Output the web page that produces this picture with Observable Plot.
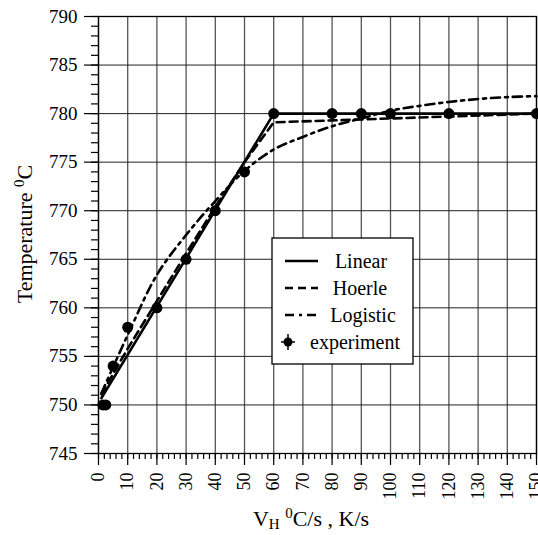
<!DOCTYPE html>
<html><head><meta charset="utf-8">
<script src="https://cdn.jsdelivr.net/npm/d3@7"></script>
<script src="https://cdn.jsdelivr.net/npm/@observablehq/plot@0.6"></script>
<style>body{margin:0;background:#fff} svg text{font-family:"Liberation Serif","Times New Roman",serif}</style>
</head><body><div id="chart"></div>
<script>
// experiment
const expX = [1.5, 2.5, 5, 10, 20, 30, 40, 50, 60, 80, 90, 100, 120, 150];
const expY = [750, 750, 754, 758, 760, 765, 770, 774, 780, 780, 780, 780, 780, 780];
// Linear model
const linX = [1, 60, 150];
const linY = [750.7, 780, 780];
// Hoerle model
const hoeX = [1, 5, 10, 20, 30, 40, 50, 60, 80, 100, 120, 150];
const hoeY = [751.1, 753.2, 755.8, 760.7, 765.6, 770.4, 775.0, 779.1, 779.3, 779.5, 779.7, 780.0];
// Logistic model
const logX = [1, 5, 10, 20, 30, 40, 50, 60, 70, 80, 90, 100, 110, 120, 130, 140, 150];
const logY = [751.2, 753.9, 757.2, 763.4, 767.5, 771.0, 774.1, 776.3, 777.6, 778.7, 779.5, 780.3, 780.8, 781.2, 781.5, 781.7, 781.8];

const xTicks = d3.range(0, 151, 10);
const xMinor = d3.range(0, 151, 2);
const yTicks = d3.range(745, 791, 5);
const yMinor = d3.range(745, 791, 1);

const legendItems = ["Linear", "Hoerle", "Logistic", "experiment"];

const font = "Liberation Serif, Times New Roman, serif";
const zip = (xs, ys) => xs.map((x, i) => ({x, y: ys[i]}));

const chart = Plot.plot({
  width: 538,
  height: 535,
  marginLeft: 98,
  marginRight: 2,
  marginTop: 16,
  marginBottom: 82,
  style: {fontFamily: font, background: "white", color: "black"},
  x: {domain: [0, 150]},
  y: {domain: [745, 790]},
  marks: [
    Plot.gridX(xTicks, {stroke: "#555", strokeOpacity: 1, strokeWidth: 1.3}),
    Plot.gridY(yTicks, {stroke: "#222", strokeOpacity: 1, strokeWidth: 1}),
    Plot.axisX(xMinor, {tickSize: 6, tickFormat: () => "", label: null, strokeWidth: 1.2}),
    Plot.axisX(xTicks, {tickSize: 12, tickPadding: 7, tickRotate: -90, fontSize: 18, label: null, strokeWidth: 1.2}),
    Plot.axisY(yMinor, {tickSize: 7, tickFormat: () => "", label: null, strokeWidth: 1.2}),
    Plot.axisY(yTicks, {tickSize: 14, tickPadding: 7, fontSize: 19, label: null, strokeWidth: 1.2}),
    Plot.frame({stroke: "black", strokeWidth: 1.3}),
    Plot.line(zip(logX, logY), {x: "x", y: "y", stroke: "black", strokeWidth: 2.6, strokeDasharray: "9,5,3,5", curve: "catmull-rom"}),
    Plot.line(zip(hoeX, hoeY), {x: "x", y: "y", stroke: "black", strokeWidth: 2.6, strokeDasharray: "8,5"}),
    Plot.line(zip(linX, linY), {x: "x", y: "y", stroke: "black", strokeWidth: 2.6}),
    Plot.dot(zip(expX, expY), {x: "x", y: "y", r: 5.5, fill: "black", stroke: "none"})
  ]
});

const svg = d3.select(chart);
// Y axis title
const yt = svg.append("text")
  .attr("transform", "translate(32,234) rotate(-90)")
  .attr("text-anchor", "middle")
  .style("font-size", "22px").attr("fill", "#000");
yt.append("tspan").text("Temperature ");
yt.append("tspan").attr("dy", -8).style("font-size", "15px").text("0");
yt.append("tspan").attr("dy", 8).text("C");

// X axis title
const xt = svg.append("text")
  .attr("x", 311).attr("y", 526)
  .attr("text-anchor", "middle")
  .style("font-size", "22px").attr("fill", "#000");
xt.append("tspan").text("V");
xt.append("tspan").attr("dy", 3).style("font-size", "15px").text("H");
xt.append("tspan").attr("dy", -3).text(" ");
xt.append("tspan").attr("dy", -8).style("font-size", "15px").text("0");
xt.append("tspan").attr("dy", 8).text("C/s , K/s");

// Legend
const lg = svg.append("g");
lg.append("rect").attr("x", 272).attr("y", 238).attr("width", 141).attr("height", 126)
  .attr("fill", "white").attr("stroke", "black").attr("stroke-width", 1.3);
const rows = [261, 288, 315, 342];
const dashes = [null, "8,5", "9,5,3,5", null];
const textX = [361, 360, 363, 355];
legendItems.forEach((name, i) => {
  const yy = rows[i];
  if (i < 3) {
    const l = lg.append("line").attr("x1", 285).attr("x2", 318).attr("y1", yy).attr("y2", yy)
      .attr("stroke", "black").attr("stroke-width", 2.6);
    if (dashes[i]) l.attr("stroke-dasharray", dashes[i]);
  } else {
    lg.append("line").attr("x1", 281).attr("x2", 295).attr("y1", yy).attr("y2", yy).attr("stroke", "black").attr("stroke-width", 1.5);
    lg.append("line").attr("x1", 288).attr("x2", 288).attr("y1", yy - 8).attr("y2", yy + 8).attr("stroke", "black").attr("stroke-width", 1.5);
    lg.append("circle").attr("cx", 288).attr("cy", yy).attr("r", 4.5).attr("fill", "black");
  }
  lg.append("text").attr("x", textX[i]).attr("y", yy + 7).attr("text-anchor", "middle")
    .style("font-size", "20px").attr("fill", "#000").text(name);
});

document.getElementById("chart").appendChild(chart);
</script>
</body></html>
